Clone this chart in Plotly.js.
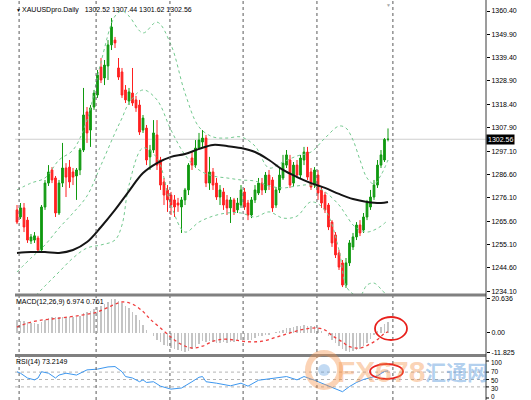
<!DOCTYPE html>
<html>
<head>
<meta charset="utf-8">
<script src="https://cdn.plot.ly/plotly-3.0.1.min.js"></script>
<style>html,body{margin:0;padding:0;background:#fff;}#chart{width:531px;height:400px;}</style>
</head>
<body>
<div id="chart"></div>
<script>
// ---------- DATA ----------
const symbolName = "XAUUSDpro.Daily";

const openP = [
 1270.7,1267.5,1271.6,1266.1,1256.7,1257.1,1258.0,1252.6,1272.0,1282.8,
 1288.7,1285.1,1269.3,1282.8,1289.6,1290.0,1287.8,1286.0,1288.7,1297.7,
 1314.9,1306.7,1317.1,1322.5,1335.1,1330.2,1335.6,1345.1,1347.3,1334.7,
 1332.9,1324.8,1319.8,1323.4,1320.3,1318.0,1306.7,1307.6,1294.6,1297.7,
 1304.5,1293.2,1283.3,1279.7,1277.4,1275.2,1273.8,1272.0,1275.2,1279.7,
 1294.1,1290.9,1298.6,1301.3,1303.1,1282.8,1287.8,1282.8,1276.5,1278.8,
 1275.2,1271.6,1275.2,1270.7,1272.9,1278.8,1273.8,1268.4,1275.2,1278.3,
 1282.8,1279.7,1286.4,1284.2,1272.9,1279.7,1285.1,1290.9,1293.2,1282.8,
 1290.9,1286.4,1293.2,1296.8,1287.8,1281.9,1286.4,1279.7,1277.4,1272.9,
 1265.2,1259.4,1251.3,1246.8,1236.8,1246.8,1254.0,1258.5,1263.9,1261.6,
 1267.5,1272.0,1276.5,1281.9,1290.9,1293.2,1302.52];
const highP = [
 1272.9,1273.8,1273.8,1267.5,1259.8,1260.7,1259.0,1272.9,1284.2,1290.9,
 1290.0,1286.0,1284.2,1300.9,1291.8,1293.2,1289.6,1289.6,1298.6,1325.7,
 1317.1,1318.0,1324.8,1333.8,1339.2,1338.3,1347.3,1357.2,1348.7,1339.2,
 1334.7,1327.0,1325.7,1334.7,1322.1,1320.3,1313.5,1309.0,1300.0,1311.2,
 1311.2,1294.6,1285.1,1281.9,1278.8,1277.4,1276.1,1276.5,1280.6,1291.8,
 1296.8,1302.2,1305.4,1306.7,1304.5,1294.6,1289.6,1285.1,1281.9,1280.6,
 1277.4,1276.5,1276.1,1276.1,1281.9,1280.6,1275.2,1276.5,1281.9,1285.1,
 1285.1,1287.8,1288.7,1285.5,1281.0,1289.6,1295.5,1297.7,1295.5,1292.3,
 1293.2,1295.5,1299.1,1299.1,1289.6,1290.0,1288.7,1281.0,1278.8,1273.8,
 1266.1,1260.7,1252.6,1248.1,1249.0,1257.1,1260.3,1265.2,1266.1,1269.3,
 1275.2,1279.7,1284.2,1293.2,1297.7,1303.1,1307.44];
const lowP = [
 1264.3,1266.6,1260.7,1255.8,1255.3,1255.8,1251.7,1252.2,1270.7,1281.5,
 1282.8,1267.5,1268.4,1281.0,1276.5,1280.6,1281.9,1275.2,1286.4,1296.8,
 1300.9,1299.1,1315.8,1321.2,1327.9,1327.0,1329.3,1342.8,1343.7,1329.3,
 1321.2,1318.9,1318.0,1317.6,1314.9,1304.5,1305.4,1290.9,1288.7,1296.4,
 1288.7,1279.7,1272.9,1269.8,1268.4,1267.5,1269.8,1260.3,1272.9,1277.4,
 1288.7,1289.6,1297.7,1299.1,1281.0,1279.7,1279.7,1275.2,1272.9,1270.7,
 1268.4,1264.8,1268.4,1269.3,1271.6,1270.7,1266.1,1267.0,1273.8,1277.4,
 1277.4,1278.3,1279.7,1269.8,1271.6,1278.3,1284.2,1289.6,1280.6,1281.0,
 1285.1,1285.1,1290.9,1284.2,1279.7,1280.6,1275.2,1271.6,1269.3,1261.6,
 1254.0,1249.0,1243.6,1235.9,1235.5,1245.4,1252.6,1257.1,1258.9,1260.3,
 1266.1,1270.7,1275.2,1280.6,1289.6,1292.3,1301.62];
const closeP = [
 1265.2,1271.6,1263.0,1257.1,1258.5,1259.0,1252.6,1272.0,1282.8,1287.8,
 1284.2,1269.3,1282.8,1289.6,1285.5,1283.3,1285.5,1288.7,1297.7,1313.5,
 1305.4,1316.7,1323.4,1331.5,1329.3,1336.0,1345.1,1353.2,1346.0,1330.6,
 1322.5,1320.3,1323.9,1318.9,1316.7,1305.8,1312.1,1293.2,1297.7,1305.4,
 1290.9,1281.9,1277.4,1275.2,1272.9,1272.0,1272.9,1275.2,1279.7,1290.9,
 1290.9,1298.6,1302.2,1303.1,1282.8,1287.8,1281.9,1276.5,1279.7,1272.9,
 1271.6,1275.2,1269.8,1273.8,1279.7,1272.0,1268.4,1275.2,1279.7,1282.8,
 1279.7,1286.4,1281.9,1271.6,1279.7,1286.4,1291.8,1295.5,1281.9,1290.9,
 1286.4,1294.1,1296.8,1285.5,1281.0,1288.7,1278.3,1273.8,1270.7,1263.0,
 1255.8,1250.4,1244.9,1236.8,1246.8,1255.8,1258.5,1263.9,1260.3,1267.5,
 1273.8,1276.5,1281.9,1290.9,1295.5,1302.5,1302.56];

// Bollinger bands (read at every few bars)
const bandIdx = [0,4,8,12,16,20,24,28,30,32,36,40,44,48,52,56,60,64,68,72,76,80,84,88,92,94,96,98,100,102,104,106];
const bbUpper = [1279.7,1282.8,1285.1,1293.2,1297.7,1311.2,1337.4,1358.1,1360.4,1358.1,1350.5,1355.4,1345.1,1323.4,1308.1,1303.6,
                 1303.1,1303.6,1299.5,1289.6,1292.3,1295.0,1296.8,1303.1,1308.5,1307.6,1302.2,1293.2,1285.1,1282.4,1286.4,1293.2];
const bbMiddle = [1242.7,1249.0,1254.9,1262.5,1269.3,1277.0,1290.9,1305.4,1312.1,1318.9,1324.8,1320.3,1306.7,1295.5,1288.7,1286.0,
                  1285.1,1284.2,1283.7,1281.5,1280.6,1281.5,1281.9,1278.8,1272.9,1268.4,1263.9,1261.6,1260.7,1261.6,1263.4,1266.1];
const bbLower = [1225.6,1230.1,1236.4,1242.7,1249.0,1253.5,1254.9,1257.1,1263.9,1281.9,1298.6,1294.1,1272.9,1260.7,1265.2,1267.9,
                 1269.3,1269.3,1267.5,1269.8,1267.0,1267.9,1274.3,1270.7,1252.6,1236.4,1232.8,1231.9,1236.8,1237.7,1235.0,1231.4];

// Moving average (black line)
const maIdx = [0,4,8,12,16,20,24,28,32,36,40,44,48,52,56,60,64,68,72,76,80,84,88,92,96,100,104,106];
const maVal = [1251.3,1251.7,1251.7,1251.3,1252.6,1256.2,1263.0,1270.7,1279.2,1287.3,1291.8,1294.6,1295.9,1298.2,
               1300.0,1299.5,1298.6,1296.8,1293.2,1288.7,1285.5,1282.8,1280.6,1277.9,1275.6,1274.3,1273.8,1274.3];

// MACD(12,26,9): main histogram per bar, signal line
const macdMain = [
 8,7.5,7,6.5,6,6,5.5,6.5,
 8,9,9.5,9.5,9.5,10,10,10,10,
 10,10.5,12,12.5,13.5,14.5,
 15.5,16.5,17.5,19,20.5,20.6,
 19.5,18,16.5,15,13,
 11,8,5,2,0,
 -2,-4,-5.5,-7,
 -8,-9,-10,-10.5,-11,
 -11.5,-11,-10,-8.5,-6.5,
 -5,-5.5,-5,-5.5,-6,-6,
 -5.5,-6,-5.5,-5.5,-5,-4.5,-4.5,-4.5,
 -4,-3,-2,-2,-1,-1,
 0,0.5,1,2,3,3,3.5,
 4,4.5,5,4.5,4,4,3,
 1.5,0,-2,-4,-6,-8,
 -10,-11,-11.5,-11,-10.5,-9.5,
 -8,-6,-3.5,
 -1,1.5,3.5,5.5,6.974];
const sigIdx = [0,3,6,10,15,19,23,27,30,33,36,38,41,44,47,50,53,56,59,62,66,70,74,78,82,86,88,90,93,95,98,101,103,105,106];
const sigVal = [3.5,6.0,7.5,8.5,9.8,11.0,12.8,16.5,18.8,17.5,13,8.5,3,-2.5,-7,-9.1,-8,-5,-3.8,-4.2,
                -5.3,-5,-2.6,0,2.3,3.0,1.8,-1.5,-5.5,-8.3,-9.1,-6.5,-4,-0.3,0.761];
const macdTicks = [20.636, 0, -11.825];
const macdTickText = ["20.636","0.00","-11.825"];

// RSI(14)
const rsiIdx = [0,1,3,5,6,7,9,11,12,14,17,20,23,26,28,30,31,33,35,36,37,39,41,44,46,47,50,52,53,54,
                57,61,64,66,69,72,74,77,80,82,85,86,89,91,93,95,97,99,101,103,105,106];
const rsiVal = [71,67,54,49,54,71,67,54,62,67,62,76,78,84,85,71,58,54,44,49,42,44,32,24,26,27,44,56,58,44,
                40,33,40,32,48,52,54,58,49,58,48,44,31,24,17,31,42,50,55,60,72,73.2];
const rsiLast = 73.2149;
const rsiLevels = [70,50,30];
const rsiTicks = [100,70,50,30,0];

// Price axis tick labels
const priceTicks = [1234.10,1244.60,1255.10,1265.60,1276.10,1286.60,1297.10,1307.90,1318.40,1328.90,1339.40,1349.90,1360.40];

// Month separators (bar positions)
const monthStarts = [0.6,22.6,43.7,64.6,85.7,107.4];

// ---------- CHART ----------
const n = closeP.length;
const barIdx = Array.from({length:n},(_,i)=>i);
const last = n-1;

const X0 = 15/531, X1 = 486/531;
const FONT = "Liberation Sans, Arial, sans-serif";
const py = p => (400-p)/400;   // pixel row -> paper y
// MT4 spreads the RSI scale labels apart; their drawn rows (layout only)
const rsiLabelRow = [362, 371, 380, 388.5, 396];

const traces = [
 {type:'scatter', mode:'lines', x:bandIdx, y:bbUpper, line:{color:'#74c98f', width:1, dash:'dot', shape:'spline'}, hoverinfo:'skip'},
 {type:'scatter', mode:'lines', x:bandIdx, y:bbMiddle, line:{color:'#74c98f', width:1, dash:'dot', shape:'spline'}, hoverinfo:'skip'},
 {type:'scatter', mode:'lines', x:bandIdx, y:bbLower, line:{color:'#74c98f', width:1, dash:'dot', shape:'spline'}, hoverinfo:'skip'},
 {type:'candlestick', x:barIdx, open:openP, high:highP, low:lowP, close:closeP,
  increasing:{line:{color:'#109a10', width:1}, fillcolor:'#109a10'},
  decreasing:{line:{color:'#ff2020', width:1}, fillcolor:'#ff2020'},
  whiskerwidth:0, hoverinfo:'skip'},
 {type:'scatter', mode:'lines', x:maIdx, y:maVal, line:{color:'#151515', width:2, shape:'spline'}, hoverinfo:'skip'},
 {type:'bar', x:barIdx, y:macdMain, yaxis:'y2', width:0.3, marker:{color:'#c4c4c4', line:{width:0}}, hoverinfo:'skip'},
 {type:'scatter', mode:'lines', x:sigIdx, y:sigVal, yaxis:'y2', line:{color:'#f03c3c', width:1.3, dash:'dot', shape:'spline'}, hoverinfo:'skip'},
 {type:'scatter', mode:'lines', x:rsiIdx, y:rsiVal, yaxis:'y3', line:{color:'#3d97ef', width:1}, hoverinfo:'skip'}
];

const shapes = [];
shapes.push({type:'line', xref:'paper', yref:'y', x0:X0, x1:X1, y0:closeP[last], y1:closeP[last], line:{color:'#cfcfcf', width:1}, layer:'below'});
rsiLevels.forEach(v=>shapes.push({type:'line', xref:'paper', yref:'y3', x0:X0, x1:X1, y0:v, y1:v, line:{color:'#b4b4b4', width:1, dash:'dot'}, layer:'below'}));
monthStarts.forEach(v=>shapes.push({type:'line', xref:'x', yref:'paper', x0:v, x1:v, y0:0, y1:1, line:{color:'#5a5a5a', width:1, dash:'dot'}}));
shapes.push({type:'line', xref:'paper', yref:'paper', x0:X0, x1:X1, y0:py(295), y1:py(295), line:{color:'#808080', width:3}});
shapes.push({type:'line', xref:'paper', yref:'paper', x0:X0, x1:X1, y0:py(355.5), y1:py(355.5), line:{color:'#808080', width:3}});
shapes.push({type:'line', xref:'paper', yref:'paper', x0:X1, x1:X1, y0:0, y1:1, line:{color:'#3a3a3a', width:1}});
// RSI tick marks
rsiTicks.forEach(v=>shapes.push({type:'line', xref:'paper', yref:'y3', x0:X1, x1:X1+3/531, y0:v, y1:v, line:{color:'#000', width:1}}));
// watermark logo
shapes.push({type:'circle', xref:'paper', yref:'paper', x0:308/531, x1:340/531, y0:py(387), y1:py(353), line:{color:'rgba(245,150,80,0.42)', width:6}});
shapes.push({type:'circle', xref:'paper', yref:'paper', x0:318/531, x1:330/531, y0:py(376), y1:py(364), fillcolor:'rgba(80,150,220,0.35)', line:{width:0}});
// red highlight ellipses
shapes.push({type:'circle', xref:'paper', yref:'paper', x0:375/531, x1:407/531, y0:py(340), y1:py(317), line:{color:'#e8201c', width:1.8}});
shapes.push({type:'circle', xref:'paper', yref:'paper', x0:370/531, x1:403/531, y0:py(379), y1:py(364), line:{color:'#e8201c', width:1.8}});

const nb = '\u00a0';
const annotations = [
 {xref:'paper', yref:'paper', x:14/531, y:py(10), xanchor:'left', yanchor:'middle', showarrow:false, text:'▼', font:{family:FONT, size:5, color:'#000'}},
 {xref:'paper', yref:'paper', x:20/531, y:py(10), xanchor:'left', yanchor:'middle', showarrow:false,
  text: symbolName + nb+nb+nb + openP[last].toFixed(2)+' '+highP[last].toFixed(2)+' '+lowP[last].toFixed(2)+' '+closeP[last].toFixed(2),
  font:{family:FONT, size:7, color:'#000'}},
 {xref:'paper', yref:'paper', x:14/531, y:py(302), xanchor:'left', yanchor:'middle', showarrow:false,
  text:'MACD(12,26,9) '+macdMain[last].toFixed(3)+' '+sigVal[sigVal.length-1].toFixed(3), font:{family:FONT, size:7, color:'#000'}},
 {xref:'paper', yref:'paper', x:14/531, y:py(362), xanchor:'left', yanchor:'middle', showarrow:false,
  text:'RSI(14) '+rsiLast.toFixed(4), font:{family:FONT, size:7, color:'#000'}},
 {xref:'paper', yref:'y', x:X1, y:closeP[last], xanchor:'left', yanchor:'middle', showarrow:false,
  text:closeP[last].toFixed(2), bgcolor:'#000', borderpad:1, font:{family:FONT, size:7, color:'#fff'}},
 {xref:'paper', yref:'paper', x:388/531, y:py(5), xanchor:'center', yanchor:'middle', showarrow:false, text:'▼', font:{family:FONT, size:5, color:'#a8a8a8'}},
 {xref:'paper', yref:'paper', x:381/531, y:py(371), xanchor:'center', yanchor:'middle', showarrow:false,
  text:'<b>FX678</b>', font:{family:FONT, size:30, color:'rgba(245,150,80,0.42)'}},
 {xref:'paper', yref:'paper', x:456/531, y:py(371), xanchor:'center', yanchor:'middle', showarrow:false,
  text:'<b>汇通网</b>', font:{family:'Noto Sans CJK SC', size:21, color:'rgba(70,140,215,0.42)'}}
];
// RSI scale labels
rsiTicks.forEach((v,k)=>annotations.push({xref:'paper', yref:'paper', x:(X1*531+4)/531, y:py(rsiLabelRow[k]),
  xanchor:'left', yanchor:'middle', showarrow:false, text:String(v), borderpad:0, font:{family:FONT, size:6.5, color:'#000'}}));

const yCommon = {side:'right', anchor:'x', showgrid:false, zeroline:false, showline:false,
  ticks:'outside', ticklen:3, tickcolor:'#000', tickwidth:1, tickfont:{family:FONT, size:7, color:'#000'}, fixedrange:true};

const layout = {
 width:531, height:400, margin:{l:0, r:0, t:0, b:0},
 paper_bgcolor:'#fff', plot_bgcolor:'#fff', showlegend:false, hovermode:false,
 font:{family:FONT, size:7, color:'#000'},
 xaxis:{domain:[X0, X1], range:[-0.571, 134], anchor:'y3', showgrid:false, zeroline:false, showline:false,
        showticklabels:false, ticks:'', rangeslider:{visible:false}, fixedrange:true},
 yaxis:Object.assign({}, yCommon, {domain:[0.265, 1], range:[1232.77, 1365.36],
        tickvals:priceTicks, ticktext:priceTicks.map(v=>v.toFixed(2))}),
 yaxis2:Object.assign({}, yCommon, {domain:[0.1175, 0.2575], range:[-12.14, 21.84],
        tickvals:macdTicks, ticktext:macdTickText}),
 yaxis3:Object.assign({}, yCommon, {domain:[0, 0.1075], range:[-5.4, 110.8],
        ticks:'', showticklabels:false}),
 bargap:0, shapes:shapes, annotations:annotations
};

Plotly.newPlot('chart', traces, layout, {staticPlot:true, displayModeBar:false});
</script>
</body>
</html>
